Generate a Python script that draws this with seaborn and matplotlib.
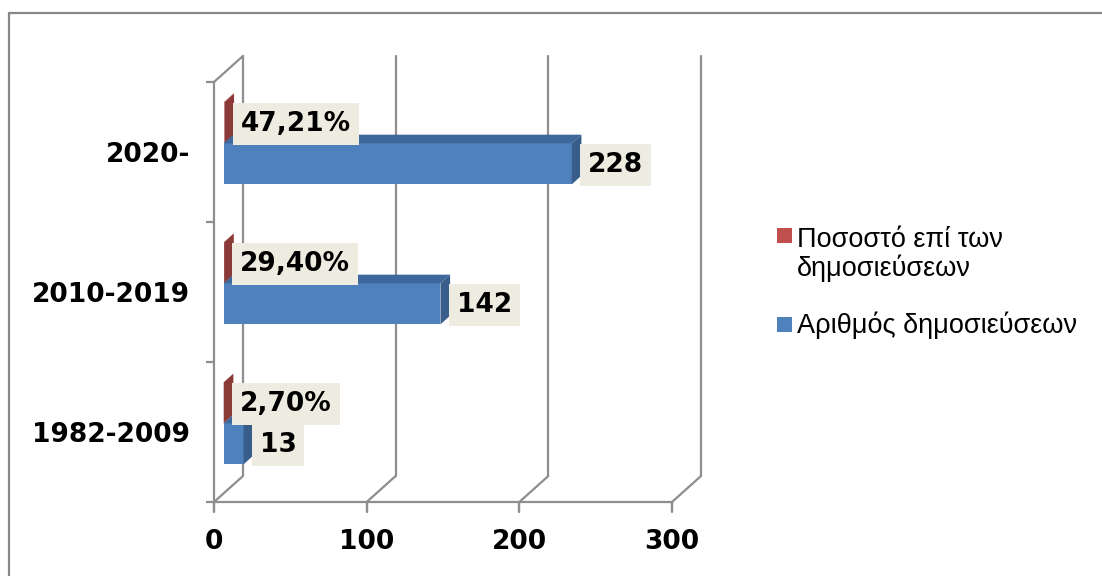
import numpy as np
import pandas as pd
import matplotlib
matplotlib.use("Agg")
import matplotlib.pyplot as plt
import seaborn as sns
from matplotlib.patches import Polygon, Rectangle
from matplotlib.lines import Line2D
from matplotlib.transforms import IdentityTransform, Affine2D

# ---------------- data ----------------
periods = ["2020-", "2010-2019", "1982-2009"]
publications = [228, 142, 13]
share = [0.4721, 0.2940, 0.0270]
share_labels = ["47,21%", "29,40%", "2,70%"]
count_labels = ["228", "142", "13"]
series = ["Ποσοστό επί των\nδημοσιεύσεων", "Αριθμός δημοσιεύσεων"]
x_ticks = [0, 100, 200, 300]

# ---------------- style ----------------
W, H, DPI = 1102, 576, 100
front_colors = ["#C0504D", "#4F81BD"]
top_colors = ["#A54442", "#3E679B"]
side_colors = ["#8C3A38", "#385D8A"]
label_box = "#EEECE1"
grid_gray = "#8E8E8E"
DX, DY = 29, 26            # full depth offset in pixels
D_FRONT, D_BACK = 1 / 3, 2 / 3
FS = 19
TICK_PX = 10

sns.set_theme(style="white")
plt.rcParams["font.family"] = ["DejaVu Sans"]

df = pd.DataFrame({
    "period": periods * 2,
    "value": share + publications,
    "series": [series[0]] * len(periods) + [series[1]] * len(periods),
})

fig = plt.figure(figsize=(W / DPI, H / DPI), dpi=DPI)
fig.patch.set_facecolor("white")

x0px, x1px, ytop_px, ybot_px = 214, 672, 82, 502
ax = fig.add_axes([x0px / W, 1 - ybot_px / H, (x1px - x0px) / W, (ybot_px - ytop_px) / H])
ax.patch.set_visible(False)

sns.barplot(data=df, x="value", y="period", hue="series", hue_order=series,
            order=periods, orient="h", palette=front_colors, width=0.586,
            saturation=1, errorbar=None, ax=ax, legend=False,
            edgecolor="none", linewidth=0)
ax.set_xlim(0, 300)
ax.set_ylim(2.5, -0.5)
ax.set_xlabel("")
ax.set_ylabel("")
ax.set_xticks(x_ticks)
ax.set_xticklabels([str(t) for t in x_ticks])
ax.set_yticks(range(len(periods)))
ax.set_yticklabels(periods)
ax.set_yticks(np.arange(-0.5, len(periods), 1.0), minor=True)

for s in ["top", "right"]:
    ax.spines[s].set_visible(False)
for s in ["left", "bottom"]:
    ax.spines[s].set_color(grid_gray)
    ax.spines[s].set_linewidth(1.6)

ax.tick_params(axis="x", which="major", bottom=True, length=7.2, width=1.6, color=grid_gray,
               direction="out", pad=12, labelsize=FS)
ax.tick_params(axis="y", which="major", left=True, length=0, pad=17, labelsize=FS)
ax.tick_params(axis="y", which="minor", left=True, length=5.5, width=1.6, color=grid_gray,
               direction="out")
for lab in ax.get_xticklabels() + ax.get_yticklabels():
    lab.set_fontweight("bold")
    lab.set_color("black")


def P(x, y, d):
    px, py = ax.transData.transform((x, y))
    return (px + DX * d, py + DY * d)


def add_line(p, q, z=0.5):
    ln = Line2D([p[0], q[0]], [p[1], q[1]], transform=IdentityTransform(),
                color=grid_gray, lw=1.6, zorder=z, clip_on=False)
    ax.add_artist(ln)


ylo, yhi = 2.5, -0.5
for xt in x_ticks:
    add_line(P(xt, ylo, 1), P(xt, yhi, 1))      # back wall grid
    add_line(P(xt, ylo, 0), P(xt, ylo, 1))      # floor diagonals
    p0 = P(xt, ylo, 0)
    add_line(p0, (p0[0], p0[1] - TICK_PX), z=3)  # x tick marks
add_line(P(0, yhi, 0), P(0, yhi, 1))            # left wall top edge

# ---------------- 3D bars ----------------
shift = ax.transData + Affine2D().translate(DX * D_FRONT, DY * D_FRONT)
for k, cont in enumerate(ax.containers):
    for bar in cont.patches:
        bx, by, bw, bh = bar.get_x(), bar.get_y(), bar.get_width(), bar.get_height()
        bar.set_transform(shift)
        bar.set_clip_on(False)
        bar.set_zorder(2)
        ya, yb = by, by + bh
        if P(0, ya, 0)[1] > P(0, yb, 0)[1]:
            yt, ybm = ya, yb
        else:
            yt, ybm = yb, ya
        xr = bx + bw
        top = [P(bx, yt, D_FRONT), P(xr, yt, D_FRONT), P(xr, yt, D_BACK), P(bx, yt, D_BACK)]
        side = [P(xr, ybm, D_FRONT), P(xr, yt, D_FRONT), P(xr, yt, D_BACK), P(xr, ybm, D_BACK)]
        for poly, col in [(top, top_colors[k]), (side, side_colors[k])]:
            pg = Polygon(poly, closed=True, transform=IdentityTransform(),
                         facecolor=col, edgecolor="none", zorder=2, clip_on=False)
            ax.add_patch(pg)
        cat = int(round(by + bh / 2))
        text = share_labels[cat] if k == 0 else count_labels[cat]
        yc = by + bh / 2
        lx = P(xr, yc, D_BACK)[0] + 6.5
        ly = P(xr, yc, D_FRONT)[1] - 1.5
        ax.text(lx, ly, text, transform=IdentityTransform(), ha="left", va="center",
                fontsize=FS, fontweight="bold", color="black", zorder=5 + k,
                clip_on=False,
                bbox=dict(boxstyle="square,pad=0.3", facecolor=label_box, edgecolor="none"))

# ---------------- legend ----------------
leg_font = ["Liberation Sans", "DejaVu Sans"]
sq = 15
for color, y_sq_top, y_base, label in [(front_colors[0], 228, 276, series[0]),
                                       (front_colors[1], 317, 333, series[1])]:
    fig.add_artist(Rectangle((777, H - y_sq_top - sq), sq, sq, transform=IdentityTransform(),
                             facecolor=color, edgecolor="none"))
    fig.text(797 / W, 1 - y_base / H, label, ha="left", va="baseline", fontsize=19.5,
             family=leg_font, color="black", linespacing=1.05)

# ---------------- outer border ----------------
fig.add_artist(Line2D([9, W], [H - 13, H - 13], transform=IdentityTransform(), color="#878787", lw=1.6))
fig.add_artist(Line2D([9, 9], [H - 13, 0], transform=IdentityTransform(), color="#878787", lw=1.6))

fig.savefig("out.png", dpi=DPI, facecolor="white")
